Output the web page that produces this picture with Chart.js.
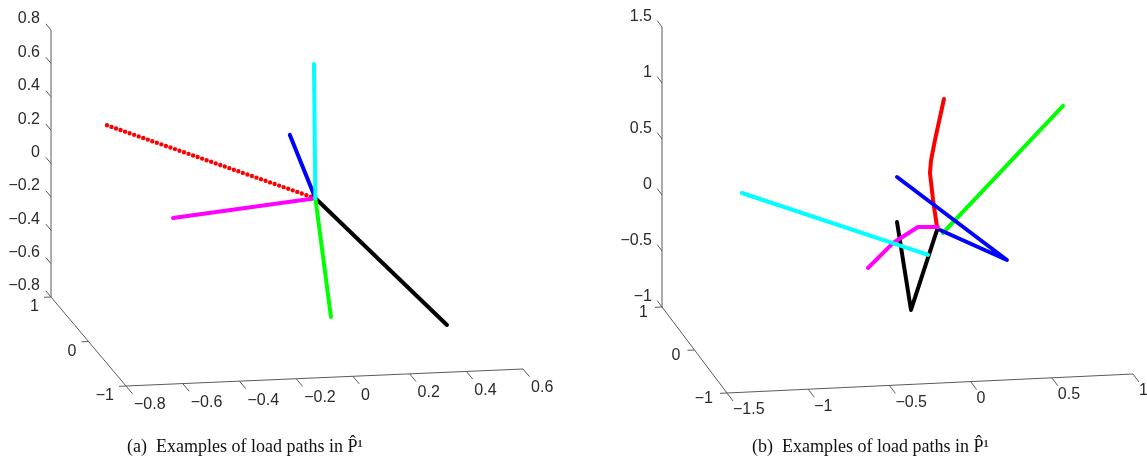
<!DOCTYPE html>
<html>
<head>
<meta charset="utf-8">
<script src="https://cdn.jsdelivr.net/npm/chart.js@4"></script>
<style>
  html, body { margin: 0; padding: 0; background: #fff; }
  canvas { display: block; }
</style>
</head>
<body>
<canvas id="c" width="1147" height="465"></canvas>
<script>
// ---------------- DATA ----------------
// Panel (a): axis tick values and labels
const aXTicks = [-0.8, -0.6, -0.4, -0.2, 0, 0.2, 0.4, 0.6];
const aXLabels = ['\u22120.8', '\u22120.6', '\u22120.4', '\u22120.2', '0', '0.2', '0.4', '0.6'];
const aYTicks = [-1, 0, 1];
const aYLabels = ['\u22121', '0', '1'];
const aZTicks = [-0.8, -0.6, -0.4, -0.2, 0, 0.2, 0.4, 0.6, 0.8];
const aZLabels = ['\u22120.8', '\u22120.6', '\u22120.4', '\u22120.2', '0', '0.2', '0.4', '0.6', '0.8'];

// Panel (a) load paths (x, z values; depth y = 0)
const aRedX = [0, -0.749],     aRedZ = [0, 0.500];
const aCyanX = [0, -0.005],    aCyanZ = [0, 0.805];
const aBlueX = [0, -0.090],    aBlueZ = [0, 0.386];
const aMagentaX = [0, -0.502], aMagentaZ = [0, -0.082];
const aGreenX = [0, 0.055],    aGreenZ = [0, -0.715];
const aBlackX = [0, 0.464],    aBlackZ = [0, -0.793];

// Panel (b): axis tick values and labels
const bXTicks = [-1.5, -1, -0.5, 0, 0.5, 1];
const bXLabels = ['\u22121.5', '\u22121', '\u22120.5', '0', '0.5', '1'];
const bYTicks = [-1, 0, 1];
const bYLabels = ['\u22121', '0', '1'];
const bZTicks = [-1, -0.5, 0, 0.5, 1, 1.5];
const bZLabels = ['\u22121', '\u22120.5', '0', '0.5', '1', '1.5'];

// Panel (b) load paths (x, z values; depth y = 0)
const bRedX = [-0.007, -0.031, -0.050, -0.044, -0.019, 0.036];
const bRedZ = [0.000, 0.240, 0.482, 0.589, 0.775, 1.137];
const bGreenX = [0.030, 0.769];
const bGreenZ = [-0.059, 1.025];
const bBlueX = [0.012, 0.424, -0.253];
const bBlueZ = [-0.031, -0.327, 0.460];
const bCyanX = [-1.208, -0.062];
const bCyanZ = [0.382, -0.249];
const bMagentaX = [-0.432, -0.278, -0.124, -0.001];
const bMagentaZ = [-0.340, -0.128, 0.005, -0.004];
const bBlackX = [-0.253, -0.167, -0.007];
const bBlackZ = [0.058, -0.733, -0.030];

const captionA = '(a)  Examples of load paths in P\u0302\u00B9';
const captionB = '(b)  Examples of load paths in P\u0302\u00B9';

// ---------------- LAYOUT (projection of the 3D boxes) ----------------
const W = 1147, H = 465;
const panelA = {
  o: [126, 386], x0: -0.8, x1: 0.6, y0: -1, y1: 1, z0: -0.8, z1: 0.8,
  ex: [283.6, -12.14], ey: [-37.5, -44.5], ez: [0, -166.9],
  xLab: [8, 19], yLab: [-12, 10], zLab: [-11, -11]
};
const panelB = {
  o: [727, 393], x0: -1.5, x1: 1, y0: -1, y1: 1, z0: -1, z1: 1.5,
  ex: [162.4, -7.6], ey: [-32.5, -43], ez: [0, -112],
  xLab: [6, 17], yLab: [-14, 6], zLab: [-10, -10]
};

function proj(P, x, y, z) {
  return {
    x: P.o[0] + (x - P.x0) * P.ex[0] + (y - P.y0) * P.ey[0] + (z - P.z0) * P.ez[0],
    y: P.o[1] + (x - P.x0) * P.ex[1] + (y - P.y0) * P.ey[1] + (z - P.z0) * P.ez[1]
  };
}
function unit(v, s) { const l = Math.hypot(v[0], v[1]); return [s * v[0] / l, s * v[1] / l]; }

const AXIS_COLOR = '#5a5a5a';
const TEXT_COLOR = '#2a2a2a';
const datasets = [];
const labelItems = [];

function segDS(p, q) {
  return { data: [p, q], showLine: true, borderColor: AXIS_COLOR, borderWidth: 1,
           pointRadius: 0, fill: false, order: 10 };
}

function buildAxes(P, xT, xL, yT, yL, zT, zL) {
  datasets.push(segDS(proj(P, P.x0, P.y1, P.z0), proj(P, P.x0, P.y1, P.z1)));  // vertical
  datasets.push(segDS(proj(P, P.x0, P.y0, P.z0), proj(P, P.x0, P.y1, P.z0)));  // depth
  datasets.push(segDS(proj(P, P.x0, P.y0, P.z0), proj(P, P.x1, P.y0, P.z0)));  // x
  const dz = unit(P.ey, 8);
  const dx = unit([-P.ey[0], -P.ey[1]], 10);
  const dy = unit([-P.ex[0], -P.ex[1]], 7);
  zT.forEach((v, i) => {
    const p = proj(P, P.x0, P.y1, v);
    datasets.push(segDS(p, { x: p.x + dz[0], y: p.y + dz[1] }));
    labelItems.push({ x: p.x + P.zLab[0], y: p.y + P.zLab[1], t: zL[i], align: 'right' });
  });
  xT.forEach((v, i) => {
    const p = proj(P, v, P.y0, P.z0);
    datasets.push(segDS(p, { x: p.x + dx[0], y: p.y + dx[1] }));
    labelItems.push({ x: p.x + P.xLab[0], y: p.y + P.xLab[1], t: xL[i], align: 'left' });
  });
  yT.forEach((v, i) => {
    const p = proj(P, P.x0, v, P.z0);
    datasets.push(segDS(p, { x: p.x + dy[0], y: p.y + dy[1] }));
    labelItems.push({ x: p.x + P.yLab[0], y: p.y + P.yLab[1], t: yL[i], align: 'right' });
  });
}

function pathDS(P, xs, zs, color, dotted) {
  const d = xs.map((x, i) => proj(P, x, 0, zs[i]));
  const ds = { data: d, showLine: true, borderColor: color, borderWidth: 4,
               pointRadius: 0, fill: false, borderCapStyle: 'round',
               borderJoinStyle: 'round', order: 1 };
  if (dotted) { ds.borderDash = [0, 4.8]; ds.borderWidth = 4.4; }
  datasets.push(ds);
}

buildAxes(panelA, aXTicks, aXLabels, aYTicks, aYLabels, aZTicks, aZLabels);
buildAxes(panelB, bXTicks, bXLabels, bYTicks, bYLabels, bZTicks, bZLabels);

pathDS(panelA, aCyanX, aCyanZ, '#00ffff');
pathDS(panelA, aGreenX, aGreenZ, '#00ff00');
pathDS(panelA, aBlackX, aBlackZ, '#000000');
pathDS(panelA, aMagentaX, aMagentaZ, '#ff00ff');
pathDS(panelA, aBlueX, aBlueZ, '#0000ff');
pathDS(panelA, aRedX, aRedZ, '#ff0000', true);

pathDS(panelB, bCyanX, bCyanZ, '#00ffff');
pathDS(panelB, bMagentaX, bMagentaZ, '#ff00ff');
pathDS(panelB, bBlackX, bBlackZ, '#000000');
pathDS(panelB, bBlueX, bBlueZ, '#0000ff');
pathDS(panelB, bGreenX, bGreenZ, '#00ff00');
pathDS(panelB, bRedX, bRedZ, '#ff0000');

const textPlugin = {
  id: 'texts',
  afterDraw(chart) {
    const ctx = chart.ctx, sx = chart.scales.x, sy = chart.scales.y;
    ctx.save();
    ctx.fillStyle = TEXT_COLOR;
    ctx.font = '16px "Liberation Sans", Arial, sans-serif';
    ctx.textBaseline = 'middle';
    labelItems.forEach(l => {
      ctx.textAlign = l.align;
      ctx.fillText(l.t, sx.getPixelForValue(l.x), sy.getPixelForValue(l.y));
    });
    ctx.fillStyle = '#111';
    ctx.font = '18px "Liberation Serif", "DejaVu Serif", serif';
    ctx.textAlign = 'left';
    ctx.fillText(captionA, 127, 447);
    ctx.fillText(captionB, 752, 447);
    ctx.restore();
  }
};

new Chart(document.getElementById('c'), {
  type: 'scatter',
  data: { datasets: datasets },
  options: {
    responsive: false, animation: false, devicePixelRatio: 1,
    layout: { padding: 0 },
    plugins: { legend: { display: false }, tooltip: { enabled: false } },
    scales: {
      x: { type: 'linear', min: 0, max: W, display: false },
      y: { type: 'linear', min: 0, max: H, reverse: true, display: false }
    }
  },
  plugins: [textPlugin]
});
</script>
</body>
</html>
